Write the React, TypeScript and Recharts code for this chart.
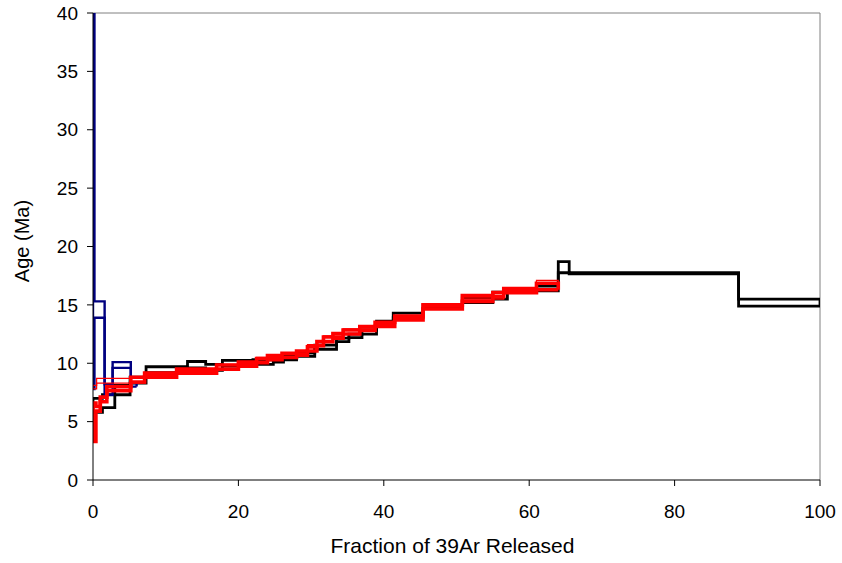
import { LineChart, Line, XAxis, YAxis, ReferenceLine, Label } from "recharts";

const xTicks = [0, 20, 40, 60, 80, 100];
const yTicks = [0, 5, 10, 15, 20, 25, 30, 35, 40];

// black sample: cumulative % 39Ar step edges, age upper / lower bound (Ma)
const blackEdges = [0, 1.3, 3.0, 5.1, 7.3, 13.0, 15.5, 17.8, 22.0, 24.8, 26.2, 28.0, 30.5, 33.5, 35.2, 37.0, 39.0, 41.3, 45.4, 50.8, 55.0, 57.0, 61.0, 64.0, 65.5, 88.8, 100];
const blackUpper = [7.0, 7.3, 8.1, 8.8, 9.7, 10.15, 9.9, 10.25, 10.3, 10.4, 10.6, 10.9, 11.55, 12.15, 12.5, 12.85, 13.6, 14.3, 15.0, 15.6, 16.1, 16.4, 16.6, 18.7, 17.75, 15.5];
const blackLower = [5.8, 6.2, 7.3, 8.3, 9.2, 9.6, 9.4, 9.75, 9.9, 10.1, 10.3, 10.6, 11.2, 11.85, 12.2, 12.5, 13.2, 13.9, 14.7, 15.2, 15.5, 16.1, 16.2, 17.75, 17.65, 14.9];

// blue sample
const blueEdges = [0, 0.2, 1.6, 2.7, 5.2, 6.0];
const blueUpper = [45, 15.3, 8.2, 10.1, 8.3];
const blueLower = [7.8, 13.9, 7.3, 9.6, 8.0];

// red sample (thick)
const redEdges = [0, 0.4, 1.0, 1.9, 5.2, 7.1, 11.5, 17.0, 20.0, 22.5, 24.0, 26.0, 28.0, 29.5, 30.8, 31.7, 33.0, 34.4, 36.7, 38.8, 41.5, 45.4, 50.8, 55.0, 56.5, 61.0, 64.0];
const redUpper = [6.6, 6.3, 7.1, 8.0, 8.8, 9.15, 9.5, 9.85, 10.1, 10.4, 10.65, 10.85, 11.05, 11.4, 11.85, 12.25, 12.55, 12.85, 13.15, 13.5, 14.05, 15.0, 15.8, 16.05, 16.4, 16.85];
const redLower = [3.3, 5.9, 6.7, 7.65, 8.4, 8.8, 9.15, 9.5, 9.75, 10.05, 10.3, 10.5, 10.7, 11.05, 11.5, 11.85, 12.15, 12.5, 12.8, 13.15, 13.7, 14.65, 15.3, 15.7, 16.05, 16.3];

// second red sample (thin)
const red2Edges = [0, 0.5, 7.2, 11.5, 17.0, 22.5, 26.0, 29.5, 31.7, 34.4, 38.8, 41.5, 45.4, 50.8, 56.5, 61.0, 64.0];
const red2Upper = [8.1, 8.7, 9.0, 9.35, 9.9, 10.5, 10.9, 11.6, 12.35, 12.95, 13.35, 13.9, 14.85, 15.6, 16.25, 17.1];
const red2Lower = [7.8, 8.3, 8.95, 9.3, 9.85, 10.45, 10.85, 11.5, 12.3, 12.9, 13.3, 13.85, 14.8, 15.5, 16.2, 16.75];

type Pt = { x: number; y: number };

const stepData = (edges: number[], ages: number[], close?: number[]): Pt[] => {
  const pts: Pt[] = [];
  if (close) pts.push({ x: edges[0], y: close[0] });
  ages.forEach((a, i) => pts.push({ x: edges[i], y: a }));
  pts.push({ x: edges[edges.length - 1], y: ages[ages.length - 1] });
  if (close) pts.push({ x: edges[edges.length - 1], y: close[close.length - 1] });
  return pts;
};

const samples = [
  { id: "black", edges: blackEdges, upper: blackUpper, lower: blackLower, color: "#000000", width: 2.8 },
  { id: "blue", edges: blueEdges, upper: blueUpper, lower: blueLower, color: "#000080", width: 2.4 },
  { id: "red", edges: redEdges, upper: redUpper, lower: redLower, color: "#ff0000", width: 3.6 },
  { id: "red2", edges: red2Edges, upper: red2Upper, lower: red2Lower, color: "#ff0000", width: 1.2 },
];

const FONT = "'Liberation Sans', Arial, sans-serif";

export default function App() {
  return (
    <div style={{ position: "absolute", left: 0, top: 0, width: 842, height: 563, background: "#fff" }}>
      <LineChart width={842} height={563} margin={{ top: 13, right: 22, bottom: 13, left: 13 }}>
        <XAxis
          type="number"
          dataKey="x"
          domain={[0, 100]}
          ticks={xTicks}
          allowDataOverflow
          height={70}
          tickSize={6}
          tickMargin={19}
          axisLine={{ stroke: "#000" }}
          tickLine={{ stroke: "#000" }}
          tick={{ fill: "#000", fontSize: 19, fontFamily: FONT }}
        >
          <Label
            content={({ viewBox }: any) => (
              <text x={viewBox.x + viewBox.width / 2 - 4} y={553} textAnchor="middle" fontSize={21} fontFamily={FONT} fill="#000">
                Fraction of 39Ar Released
              </text>
            )}
          />
        </XAxis>
        <YAxis
          type="number"
          dataKey="y"
          domain={[0, 40]}
          ticks={yTicks}
          allowDataOverflow
          width={80}
          tickSize={6}
          tickMargin={9}
          axisLine={{ stroke: "#000" }}
          tickLine={{ stroke: "#000" }}
          tick={{ fill: "#000", fontSize: 19, fontFamily: FONT }}
        >
          <Label
            content={() => (
              <text x={29} y={241} transform="rotate(-90 29 241)" textAnchor="middle" fontSize={20} fontFamily={FONT} fill="#000">
                Age (Ma)
              </text>
            )}
          />
        </YAxis>
        <ReferenceLine y={40} stroke="#808080" strokeWidth={1} />
        <ReferenceLine x={100} stroke="#808080" strokeWidth={1} />
        {samples.flatMap((s) => [
          <Line
            key={s.id + "-up"}
            data={stepData(s.edges, s.upper, s.lower)}
            dataKey="y"
            type="stepAfter"
            stroke={s.color}
            strokeWidth={s.width}
            dot={false}
            activeDot={false}
            isAnimationActive={false}
          />,
          <Line
            key={s.id + "-lo"}
            data={stepData(s.edges, s.lower)}
            dataKey="y"
            type="stepAfter"
            stroke={s.color}
            strokeWidth={s.width}
            dot={false}
            activeDot={false}
            isAnimationActive={false}
          />,
        ])}
      </LineChart>
    </div>
  );
}
